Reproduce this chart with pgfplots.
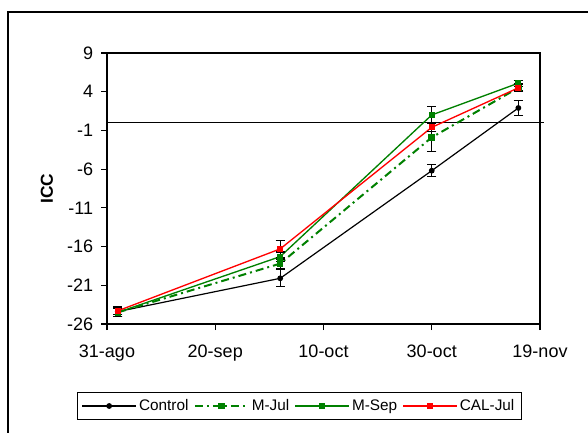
\documentclass[border=0pt]{standalone}
\usepackage{pgfplots}
\pgfplotsset{compat=1.18}
\usepackage{fontspec}
\setmainfont{Liberation Sans}
\definecolor{mgreen}{RGB}{0,128,0}
\begin{document}
\fontsize{11}{13}\selectfont
\begin{tikzpicture}
\useasboundingbox (0,0) rectangle (441pt,324pt);
\draw[black, line width=0.9pt] (6pt,-10pt) rectangle (460pt,315pt);
\begin{axis}[
  at={(80.25pt,81pt)}, anchor=south west,
  scale only axis, width=324.75pt, height=203.25pt,
  xmin=0, xmax=80, ymin=-26, ymax=9,
  xtick={0,20,40,60,80},
  xticklabels={31-ago,20-sep,10-oct,30-oct,19-nov},
  ytick={-26,-21,-16,-11,-6,-1,4,9},
  tick align=outside, tick pos=left,
  major tick length=4.5pt,
  tick style={black, line width=0.8pt},
  axis line style={line width=0.8pt},
  xticklabel shift=7pt, yticklabel shift=2pt,
  tick label style={font=\fontsize{13.5}{15}\selectfont},
  /pgf/number format/assume math mode=true,
  ylabel={\textbf{ICC}},
  ylabel style={at={(axis description cs:-0.139,0.5)}, anchor=center, font=\fontsize{13}{15}\selectfont},
  clip=false,
  legend columns=4,
  legend style={at={(axis description cs:0.4445,-0.3026)}, anchor=center, draw=black, line width=0.7pt,
    font=\fontsize{11.5}{13}\selectfont, inner sep=3pt,
    /tikz/every even column/.append style={column sep=2pt}},
  legend image code/.code={\draw[mark repeat=2,mark phase=2] plot coordinates {(0pt,0pt)(20pt,0pt)(40pt,0pt)};},
  error bars/error bar style={black, line width=0.9pt, solid},
  error bars/error mark options={black, rotate=90, mark size=3.5pt, line width=0.9pt, solid},
]
\addplot[black, line width=0.7pt, forget plot] coordinates {(0,0) (80.8,0)};
\addplot[black, line width=0.9pt, mark=*, mark size=1.7pt,
  error bars/.cd, y dir=both, y explicit] coordinates {
  (2,-24.4) +- (0,0.6)
  (32,-20.1) +- (0,1.1)
  (60,-6.2) +- (0,0.8)
  (76,1.9) +- (0,1.0)
};
\addlegendentry{Control}
\addplot[mgreen, line width=1.5pt, dash pattern=on 6pt off 3pt on 1.5pt off 3pt, mark=square*, mark size=1.7pt, mark options={solid},
  error bars/.cd, y dir=both, y explicit] coordinates {
  (2,-24.5) +- (0,0.5)
  (32,-18.2) +- (0,0.6)
  (60,-1.9) +- (0,1.8)
  (76,4.5) +- (0,0.5)
};
\addlegendentry{M-Jul}
\addplot[mgreen, line width=1pt, mark=square*, mark size=1.7pt,
  error bars/.cd, y dir=both, y explicit] coordinates {
  (2,-24.5) +- (0,0.5)
  (32,-17.3) +- (0,0.6)
  (60,1.0) +- (0,1.1)
  (76,5.1) +- (0,0.4)
};
\addlegendentry{M-Sep}
\addplot[red, line width=1pt, mark=square*, mark size=1.7pt,
  error bars/.cd, y dir=both, y explicit] coordinates {
  (2,-24.3) +- (0,0.5)
  (32,-16.3) +- (0,1.1)
  (60,-0.6) +- (0,0.5)
  (76,4.5) +- (0,0.4)
};
\addlegendentry{CAL-Jul}
\end{axis}
\end{tikzpicture}
\end{document}
